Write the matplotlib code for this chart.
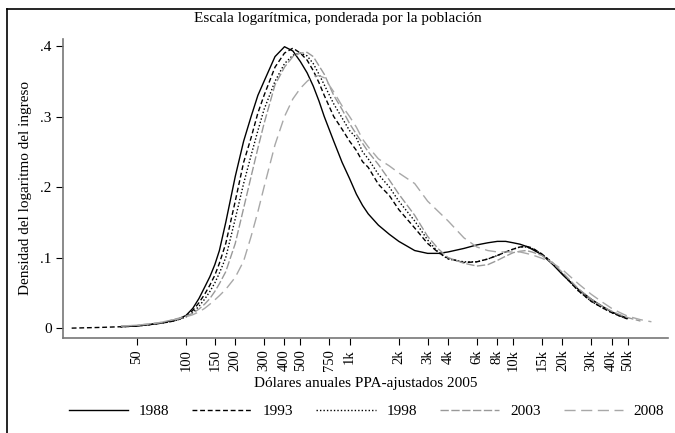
import numpy as np
import matplotlib
matplotlib.use("Agg")
import matplotlib.pyplot as plt
from matplotlib.lines import Line2D

plt.rcParams['font.family'] = ['Liberation Serif', 'DejaVu Serif']

# ingreso anual (dólares PPA 2005)
income = [20, 30, 40, 50, 60, 70, 80, 90, 100, 110, 120, 130, 140, 150, 160, 175,
          200, 225, 250, 275, 300, 350, 400, 450, 500, 550, 600, 650, 700, 800,
          900, 1000, 1100, 1200, 1300, 1500, 1750, 2000, 2500, 3000, 3500, 4000,
          5000, 6000, 7000, 8000, 9000, 10000, 11000, 12000, 13000, 15000, 17500,
          20000, 25000, 30000, 35000, 40000, 45000, 50000, 60000, 70000]
nan = np.nan
d1988 = [nan, nan, .002, .003, .005, .007, .010, .013, .018, .028, .042, .058,
         .073, .090, .110, .150, .215, .265, .300, .330, .350, .385, .399, .393,
         .378, .362, .343, .322, .300, .265, .235, .212, .190, .174, .162, .146,
         .133, .123, .110, .106, .106, .108, .113, .118, .121, .123, .123, .121,
         .119, .116, .112, .104, .090, .076, .055, .041, .031, .023, .018, .014,
         nan, nan]
d1993 = [0.0, .001, .002, .003, .005, .007, .009, .012, .017, .025, .036, .048,
         .061, .075, .092, .120, .180, .235, .270, .305, .330, .370, .390, .397,
         .390, .380, .365, .348, .330, .300, .282, .265, .252, .236, .228, .204,
         .188, .168, .142, .120, .107, .099, .093, .094, .098, .103, .108, .112,
         .115, .116, .114, .105, .092, .077, .053, .038, .029, .022, .017, .013,
         nan, nan]
d1998 = [nan, nan, .002, .003, .005, .007, .009, .012, .016, .022, .031, .041,
         .052, .064, .078, .100, .155, .205, .245, .280, .310, .350, .375, .387,
         .390, .386, .375, .360, .345, .318, .298, .280, .270, .250, .240, .218,
         .200, .180, .152, .125, .107, .098, .094, .094, .098, .103, .108, .112,
         .115, .115, .113, .105, .092, .077, .053, .038, .029, .022, .017, .013,
         nan, nan]
d2003 = [nan, nan, .003, .004, .006, .008, .011, .014, .017, .021, .027, .034,
         .042, .052, .063, .080, .120, .170, .215, .255, .290, .345, .370, .385,
         .390, .391, .385, .372, .360, .330, .310, .290, .275, .262, .250, .232,
         .210, .190, .160, .130, .112, .100, .092, .088, .090, .096, .102, .107,
         .109, .110, .108, .103, .092, .079, .056, .041, .031, .024, .019, .015,
         .010, nan]
d2008 = [nan, nan, .003, .004, .006, .008, .011, .013, .016, .019, .023, .028,
         .034, .040, .046, .055, .072, .095, .130, .165, .200, .260, .300, .325,
         .340, .350, .357, .358, .355, .335, .315, .300, .285, .268, .257, .240,
         .230, .220, .205, .180, .165, .152, .128, .115, .110, .108, .108, .108,
         .108, .106, .104, .099, .092, .083, .063, .048, .037, .028, .022, .017,
         .012, .009]

years = ['1988', '1993', '1998', '2003', '2008']
series = [d1988, d1993, d1998, d2003, d2008]
colors = ['black', 'black', 'black', '#999999', '#a8a8a8']
dashes = [None, (3.5, 2), (1, 1.5), (6, 1.8), (8, 4)]

tick_vals = [50, 100, 150, 200, 300, 400, 500, 750, 1000, 2000, 3000, 4000,
             6000, 8000, 10000, 15000, 20000, 30000, 40000, 50000]
tick_labels = ['50', '100', '150', '200', '300', '400', '500', '750', '1k', '2k',
               '3k', '4k', '6k', '8k', '10k', '15k', '20k', '30k', '40k', '50k']

fig = plt.figure(figsize=(6.75, 4.33), dpi=100)
ax = fig.add_axes([0.0933, 0.2194, 0.8967, 0.6906])

for yr, d, c, ds in zip(years, series, colors, dashes):
    line, = ax.plot(income, d, color=c, lw=1.0, label=yr)
    if ds is not None:
        line.set_dashes(ds)

ax.set_xscale('log')
ax.set_xlim(17.7, 88700)
ax.set_ylim(-0.014, 0.41)
ax.set_xticks(tick_vals)
ax.set_xticklabels(tick_labels, rotation=90, fontsize=10.5)
ax.minorticks_off()
ax.set_yticks([0, 0.1, 0.2, 0.3, 0.4])
ax.set_yticklabels(['0', '.1', '.2', '.3', '.4'], fontsize=11)
ax.tick_params(direction='out', length=5, width=0.8, color='black', pad=3)

for s in ['top', 'right']:
    ax.spines[s].set_visible(False)
for s in ['left', 'bottom']:
    ax.spines[s].set_color('#777777')
    ax.spines[s].set_linewidth(1.2)

ax.set_xlabel('Dólares anuales PPA-ajustados 2005', fontsize=11, labelpad=4)
ax.set_ylabel('Densidad del logaritmo del ingreso', fontsize=11, labelpad=6)
fig.text(0.5, 0.958, 'Escala logarítmica, ponderada por la población',
         ha='center', va='center', fontsize=11)

fig.legend(loc='center', bbox_to_anchor=(0.543, 0.05), ncol=5, frameon=False,
           fontsize=11, handlelength=3.9, columnspacing=1.5, handletextpad=0.7)

# marco parcial de la figura
fig.add_artist(Line2D([0.0104, 0.0104], [0.0, 0.979], color='black', lw=1.2,
                      transform=fig.transFigure))
fig.add_artist(Line2D([0.0104, 1.0], [0.979, 0.979], color='black', lw=1.2,
                      transform=fig.transFigure))

fig.savefig('out.png', dpi=100)
